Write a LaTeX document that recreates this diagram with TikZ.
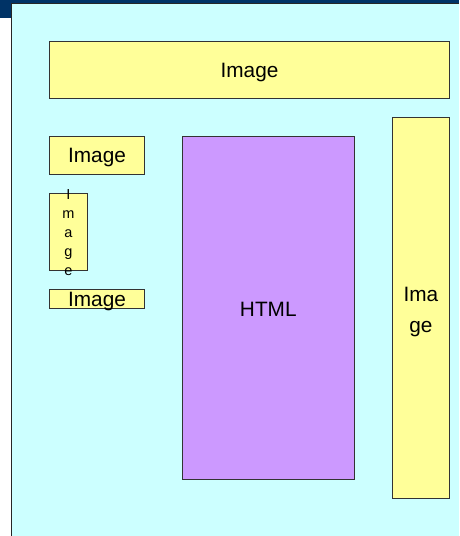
\documentclass[tikz,border=0pt]{standalone}
\usepackage{fontspec}
\setmainfont{Liberation Sans}
\definecolor{panelcyan}{HTML}{CCFFFF}
\definecolor{imgyellow}{HTML}{FFFF99}
\definecolor{htmlviolet}{HTML}{CC99FF}
\definecolor{titlenavy}{HTML}{003366}
\begin{document}
\begin{tikzpicture}[x=1pt,y=-1pt,
  frame/.style={draw=black!80, line width=0.9pt, inner sep=0pt, anchor=center},
  imgbox/.style={frame, fill=imgyellow},
  htmlbox/.style={frame, fill=htmlviolet},
  lbl/.style={inner sep=0pt, anchor=center, font=\fontsize{20.8}{24}\selectfont}
]
\useasboundingbox (0,0) rectangle (459,536);
\fill[white] (0,0) rectangle (459,536);
% title strip and corner
\fill[titlenavy] (0,0) rectangle (459,3.5);
\fill[titlenavy] (0,0) rectangle (11.5,18);
% page panel
\fill[panelcyan] (11.5,3.5) rectangle (459,536);
\draw[black!85, line width=1.1pt] (11.5,536) -- (11.5,3.5) -- (459,3.5);

% boxes
\node[imgbox, minimum width=400.4pt, minimum height=57pt] (top) at (249.5,69.8) {};
\node[imgbox, minimum width=95.4pt, minimum height=38.7pt] (img1) at (97,155.3) {};
\node[imgbox, minimum width=38.4pt, minimum height=76.7pt] (vimg) at (68.5,231.7) {};
\node[imgbox, minimum width=95.4pt, minimum height=19pt] (img2) at (97,298.5) {};
\node[htmlbox, minimum width=172pt, minimum height=343pt] (html) at (268.3,307.8) {};
\node[imgbox, minimum width=57.7pt, minimum height=381.4pt] (rimg) at (420.85,308) {};

% labels (negative yshift moves a label down)
\node[lbl] (toplbl) at ([yshift=-2.5pt]top.center) {Image};
\node[lbl] (img1lbl) at ([yshift=-2pt]img1.center) {Image};
\node[lbl] (img2lbl) at ([yshift=-2.5pt]img2.center) {Image};
\node[lbl] (htmllbl) at ([yshift=-1.5pt]html.center) {HTML};
\node[lbl, align=center, font=\fontsize{20.8}{31.5}\selectfont] (rimglbl) at ([yshift=-4pt]rimg.center) {Ima\\ge};
\node[lbl, align=center, font=\fontsize{14.5}{19}\selectfont] (vimglbl) at ([yshift=-1pt]vimg.center) {I\\m\\a\\g\\e};
\end{tikzpicture}
\end{document}
